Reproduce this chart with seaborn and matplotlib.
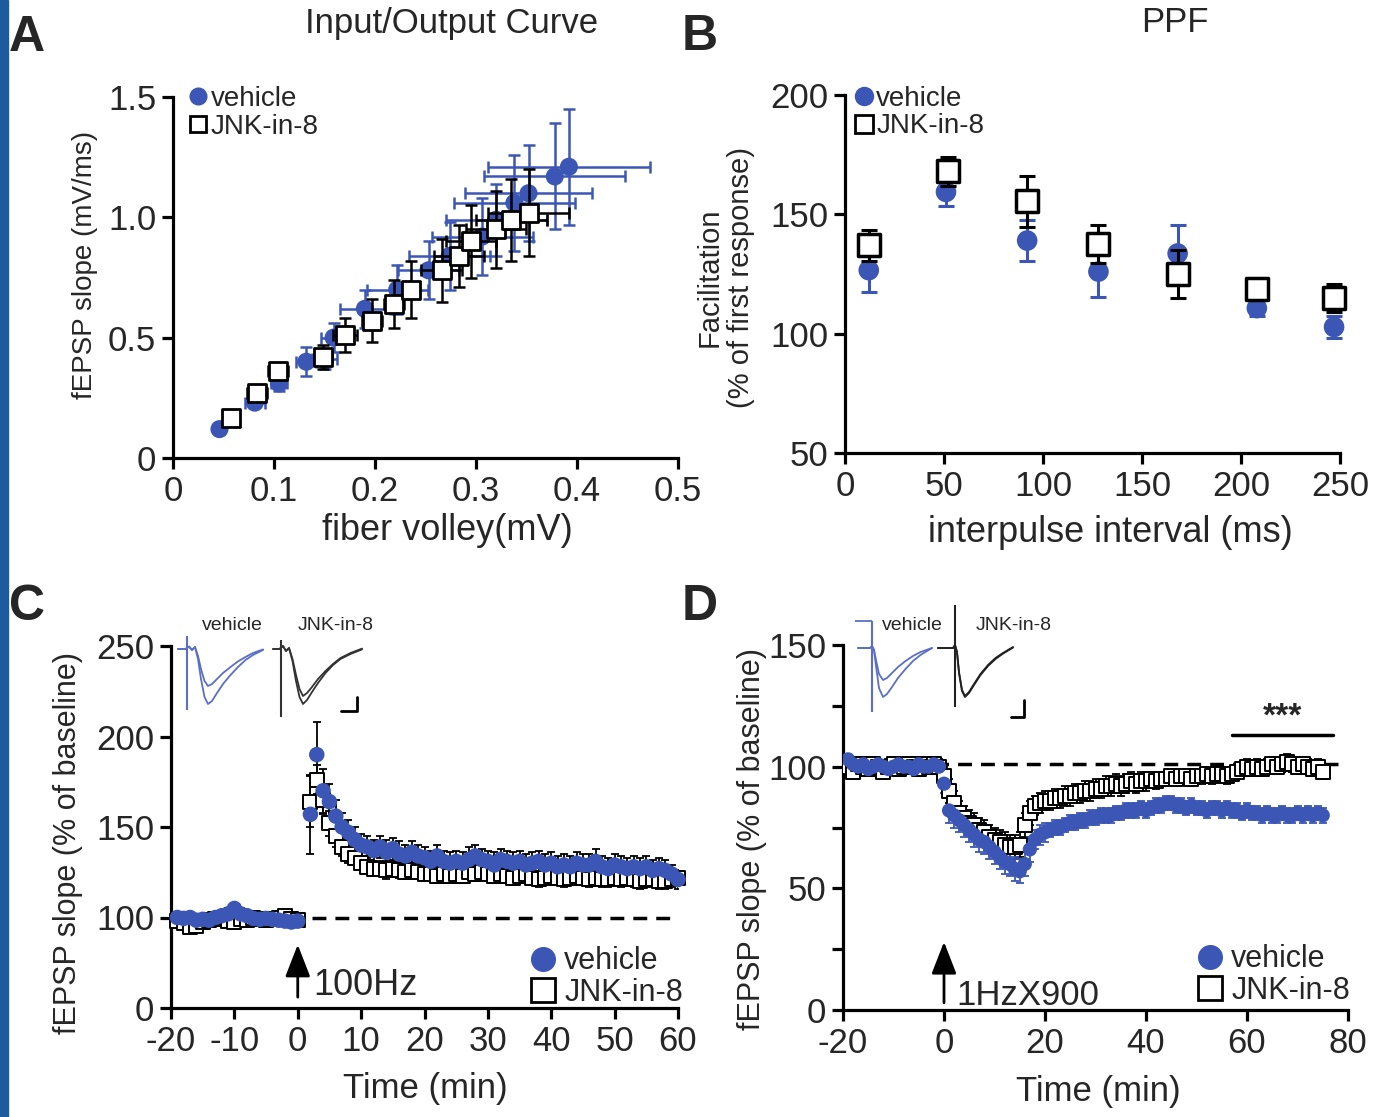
import matplotlib
matplotlib.use("Agg")
import numpy as np
import matplotlib.pyplot as plt
import seaborn as sns
from matplotlib.lines import Line2D
from matplotlib.patches import Rectangle

# ---------------- data ----------------
# A: input/output curve
io_veh_x = [0.046, 0.081, 0.105, 0.132, 0.150, 0.159, 0.190, 0.222, 0.253, 0.274, 0.306, 0.320, 0.338, 0.352, 0.378, 0.392]
io_veh_y = [0.12, 0.23, 0.31, 0.40, 0.41, 0.50, 0.62, 0.70, 0.78, 0.84, 0.92, 0.99, 1.06, 1.10, 1.17, 1.21]
io_veh_xerr = [0.004, 0.010, 0.008, 0.010, 0.012, 0.012, 0.025, 0.030, 0.030, 0.040, 0.050, 0.050, 0.060, 0.063, 0.070, 0.080]
io_veh_yerr = [0.01, 0.02, 0.03, 0.06, 0.04, 0.06, 0.08, 0.10, 0.12, 0.14, 0.16, 0.15, 0.20, 0.20, 0.22, 0.24]
io_jnk_x = [0.057, 0.083, 0.104, 0.149, 0.170, 0.197, 0.219, 0.236, 0.266, 0.283, 0.295, 0.320, 0.335, 0.352]
io_jnk_y = [0.165, 0.27, 0.36, 0.42, 0.51, 0.57, 0.64, 0.70, 0.78, 0.84, 0.90, 0.95, 0.99, 1.02]
io_jnk_xerr = [0.005, 0.010, 0.010, 0.008, 0.012, 0.010, 0.010, 0.008, 0.020, 0.025, 0.025, 0.030, 0.035, 0.040]
io_jnk_yerr = [0.02, 0.03, 0.03, 0.05, 0.07, 0.09, 0.10, 0.12, 0.13, 0.13, 0.15, 0.16, 0.17, 0.18]

# B: paired-pulse facilitation
ppf_veh_x = [12, 51, 92, 128, 168, 208, 247]
ppf_veh_y = [126.6, 159.4, 139, 126, 133.6, 110.7, 102.8]
ppf_veh_err = [9, 6, 8.5, 10.5, 12, 3.5, 4.5]
ppf_jnk_x = [12, 52, 92, 128, 168, 208, 247]
ppf_jnk_y = [137, 168, 155.4, 137.4, 125, 118.7, 115]
ppf_jnk_err = [6.5, 6, 10.5, 8, 10, 4.5, 6]

# C: LTP (100 Hz)
c_time_base = list(range(-19, 1))
c_time_post = list(range(2, 61))
c_veh_base = [100, 99, 100, 97, 98, 97, 100, 101, 102, 105, 102, 101, 99, 98, 99, 98, 97, 96, 95, 96]
c_jnk_base = [96, 94, 90, 91, 95, 97, 98, 99, 96, 95, 98, 97, 99, 98, 97, 98, 100, 101, 98, 97]
c_base_err = [3, 3, 3, 3, 3, 3, 3, 3, 3, 3, 3, 3, 3, 3, 3, 3, 3, 3, 3, 3]
c_veh_post = [157, 190, 170, 164, 156, 150, 147, 143, 140, 139,
              137, 139, 136, 138, 135, 134, 136, 134, 133, 131,
              134, 131, 130, 131, 130, 132, 134, 132, 131, 129,
              132, 131, 130, 131, 129, 130, 131, 129, 130, 128,
              129, 128, 130, 129, 129, 131, 128, 127, 129, 128,
              127, 128, 127, 128, 126, 127, 126, 124, 121]
c_veh_post_err = [22, 18, 12, 10, 9, 8, 7, 7, 6, 6,
                  6, 6, 7, 6, 7, 6, 6, 6, 6, 6,
                  6, 6, 6, 6, 6, 7, 6, 6, 6, 7,
                  6, 6, 6, 6, 6, 6, 6, 6, 6, 6,
                  6, 6, 6, 6, 6, 7, 6, 6, 6, 6,
                  6, 6, 6, 6, 6, 6, 6, 5, 5]
c_jnk_post = [164, 176, 165, 152, 145, 139, 135, 133, 130, 128,
              127, 127, 126, 127, 126, 125, 126, 125, 124, 124,
              123, 124, 123, 124, 123, 125, 124, 125, 124, 123,
              124, 123, 122, 123, 124, 122, 121, 122, 123, 122,
              121, 122, 123, 122, 121, 122, 121, 121, 122, 121,
              122, 121, 120, 121, 121, 120, 120, 121, 122]
c_jnk_post_err = [14, 8, 8, 7, 6, 5, 5, 4, 4, 4,
                  4, 4, 5, 4, 4, 4, 4, 4, 4, 4,
                  4, 4, 4, 4, 4, 4, 4, 4, 4, 4,
                  4, 4, 4, 4, 4, 4, 4, 4, 4, 4,
                  4, 4, 4, 4, 4, 4, 4, 4, 4, 4,
                  4, 4, 4, 4, 4, 4, 4, 4, 4]

# D: LTD (1 Hz x 900)
d_time = list(range(-19, 76))
d_veh = [103, 101, 100, 101, 99, 100, 101, 100, 99, 100,
         101, 100, 100, 99, 101, 100, 100, 101, 100, 93,
         82, 80, 78, 76, 74, 72, 70, 69, 67, 65,
         63, 61, 60, 58, 57, 60, 66, 70, 72, 73,
         74, 75, 75, 76, 77, 77, 78, 78, 79, 79,
         80, 80, 80, 81, 81, 82, 82, 82, 83, 82,
         83, 84, 84, 85, 85, 84, 84, 83, 84, 83,
         83, 82, 83, 83, 82, 83, 82, 82, 81, 82,
         81, 81, 80, 81, 80, 80, 81, 80, 80, 81,
         80, 81, 80, 81, 80]
d_veh_err = [2, 2, 2, 2, 2, 2, 2, 2, 2, 2,
             2, 2, 2, 2, 2, 2, 2, 2, 2, 4,
             5, 5, 5, 5, 5, 5, 5, 5, 5, 5,
             5, 5, 5, 5, 5, 5, 5, 4, 4, 4,
             3, 3, 3, 3, 3, 3, 3, 3, 3, 3,
             3, 3, 3, 3, 3, 3, 3, 3, 3, 3,
             3, 3, 3, 3, 3, 3, 3, 3, 3, 3,
             3, 3, 3, 3, 3, 3, 3, 3, 3, 3,
             3, 3, 3, 3, 3, 3, 3, 3, 3, 3,
             3, 3, 3, 3, 3]
d_jnk = [100, 98, 101, 100, 99, 101, 100, 98, 100, 101,
         99, 100, 101, 100, 99, 101, 100, 101, 100, 96,
         90, 85, 81, 79, 77, 76, 74, 73, 71, 70,
         69, 68, 67, 67, 68, 76, 81, 84, 85, 86,
         86, 87, 87, 88, 88, 89, 89, 90, 90, 91,
         91, 92, 92, 93, 92, 93, 94, 93, 94, 94,
         95, 94, 95, 95, 96, 95, 96, 96, 95, 96,
         96, 97, 96, 97, 97, 96, 97, 98, 99, 100,
         99, 100, 99, 100, 101, 100, 101, 102, 101, 100,
         101, 100, 99, 100, 98]
d_jnk_err = [3, 3, 3, 3, 3, 3, 3, 3, 3, 3,
             3, 3, 3, 3, 3, 3, 3, 3, 3, 4,
             5, 5, 5, 5, 5, 5, 5, 5, 5, 5,
             5, 5, 5, 5, 5, 5, 5, 4, 4, 4,
             4, 4, 4, 4, 4, 4, 4, 4, 4, 4,
             4, 4, 4, 4, 4, 4, 4, 4, 4, 4,
             3, 3, 3, 3, 3, 3, 3, 3, 3, 3,
             3, 3, 3, 3, 3, 3, 3, 3, 3, 3,
             3, 3, 3, 3, 3, 3, 3, 3, 3, 3,
             3, 3, 3, 3, 3]
d_sig_span = [57, 77]
d_sig_y = 113

# example fEPSP traces (ms, arbitrary mV units)
c_tr_veh_t = [0, 1.5, 2.2, 2.8, 3.4, 4.0, 4.6, 5.3, 6.0, 6.8, 7.8, 9.0, 10.5, 12.0, 13.5, 15.0, 17.0]
c_tr_veh_pre = [0, 0, 0.12, -0.05, 0.1, -0.35, -1.0, -1.6, -1.85, -1.75, -1.5, -1.2, -0.9, -0.62, -0.4, -0.2, -0.02]
c_tr_veh_post = [0, 0, 0.12, -0.05, 0.1, -0.5, -1.5, -2.4, -2.75, -2.6, -2.2, -1.75, -1.3, -0.9, -0.55, -0.3, -0.05]
c_tr_jnk_t = [0, 1.3, 2.0, 2.6, 3.2, 3.9, 4.6, 5.3, 6.0, 6.8, 7.8, 9.0, 10.5, 12.0, 13.5, 15.5, 17.8]
c_tr_jnk_pre = [0, 0, 0.15, -0.1, 0.05, -0.5, -1.3, -2.0, -2.35, -2.2, -1.9, -1.5, -1.1, -0.75, -0.45, -0.2, 0.02]
c_tr_jnk_post = [0, 0, 0.15, -0.1, 0.05, -0.6, -1.6, -2.4, -2.75, -2.55, -2.15, -1.7, -1.2, -0.8, -0.5, -0.25, -0.02]
d_tr_veh_t = [0, 2.4, 2.8, 3.2, 3.6, 4.2, 5.0, 5.8, 6.8, 8.0, 9.5, 11.0, 12.5, 14.8]
d_tr_veh_pre = [0, 0, 0.1, -0.1, -0.9, -2.0, -2.45, -2.3, -1.95, -1.5, -1.05, -0.65, -0.35, 0]
d_tr_veh_post = [0, 0, 0.1, -0.1, -0.6, -1.3, -1.6, -1.5, -1.25, -0.95, -0.65, -0.4, -0.2, 0]
d_tr_jnk_t = [0, 3.0, 3.4, 3.8, 4.2, 4.8, 5.4, 6.2, 7.2, 8.5, 10, 11.5, 13, 15]
d_tr_jnk_pre = [0, 0, 0.15, -0.2, -1.2, -2.1, -2.4, -2.2, -1.8, -1.3, -0.85, -0.5, -0.25, 0.05]
d_tr_jnk_post = [0, 0, 0.15, -0.2, -1.25, -2.15, -2.45, -2.25, -1.85, -1.35, -0.9, -0.55, -0.28, 0.02]

BLUE = "#3c56b5"
TRACE_BLUE = "#5b6fc6"
TICK_FS = 25
LAB_FS = 25
LEG_FS = 20

sns.set_theme(style="ticks")
plt.rcParams["font.family"] = ["Liberation Sans", "DejaVu Sans"]
plt.rcParams["axes.unicode_minus"] = False

W, H = 1392, 1117
fig = plt.figure(figsize=(W / 100, H / 100), dpi=100)
fig.patches.append(Rectangle((0, 0), 8 / W, 1, transform=fig.transFigure, color="#1d5b9f", zorder=0))


def px_axes(l, t, r, b):
    return fig.add_axes([l / W, 1 - b / H, (r - l) / W, (b - t) / H])


def style(ax):
    sns.despine(ax=ax)
    for s in ["left", "bottom"]:
        ax.spines[s].set_linewidth(2.3)
        ax.spines[s].set_color("black")
    ax.tick_params(which="both", width=2.3, length=8, labelsize=TICK_FS, color="black", pad=4)
    ax.set_facecolor("none")


def fig_text(x, y, s, **kw):
    fig.text(x / W, 1 - y / H, s, **kw)


def legend(ax, anchor, loc, ms, fs, pad=0.2):
    handles = [Line2D([], [], marker="o", ls="", color=BLUE, ms=ms),
               Line2D([], [], marker="s", ls="", mfc="white", mec="black", mew=2, ms=ms)]
    ax.legend(handles, ["vehicle", "JNK-in-8"], loc=loc, bbox_to_anchor=anchor, frameon=False,
              fontsize=fs, handlelength=0.5, handletextpad=pad, labelspacing=0.05,
              borderpad=0, borderaxespad=0)


# ---------------- A ----------------
axA = px_axes(173, 97, 678, 458)
axA.errorbar(io_veh_x, io_veh_y, xerr=io_veh_xerr, yerr=io_veh_yerr, fmt="none", ecolor=BLUE,
             elinewidth=1.8, capsize=4, capthick=1.8, zorder=2)
sns.scatterplot(x=io_veh_x, y=io_veh_y, ax=axA, color=BLUE, s=170, edgecolor="none", zorder=3)
axA.errorbar(io_jnk_x, io_jnk_y, xerr=io_jnk_xerr, yerr=io_jnk_yerr, fmt="none", ecolor="black",
             elinewidth=1.8, capsize=4, capthick=1.8, zorder=4)
sns.scatterplot(x=io_jnk_x, y=io_jnk_y, ax=axA, marker="s", color="white", edgecolor="black",
                linewidth=2, s=160, zorder=5)
axA.set_xlim(0, 0.5)
axA.set_ylim(0, 1.5)
axA.set_xticks([0, 0.1, 0.2, 0.3, 0.4, 0.5], ["0", "0.1", "0.2", "0.3", "0.4", "0.5"])
axA.set_yticks([0, 0.5, 1.0, 1.5], ["0", "0.5", "1.0", "1.5"])
style(axA)
axA.set_xlabel("fiber volley(mV)", fontsize=26)
axA.xaxis.set_label_coords(0.543, -0.152)
axA.set_ylabel("fEPSP slope (mV/ms)", fontsize=20)
axA.yaxis.set_label_coords(-0.149, 0.535)
legend(axA, (0.036, 1.03), "upper left", 12, LEG_FS)

# ---------------- B ----------------
axB = px_axes(845, 95, 1340, 453)
axB.errorbar(ppf_veh_x, ppf_veh_y, yerr=ppf_veh_err, fmt="none", ecolor=BLUE,
             elinewidth=2.2, capsize=6, capthick=2.2, zorder=2, clip_on=False)
sns.scatterplot(x=ppf_veh_x, y=ppf_veh_y, ax=axB, color=BLUE, s=220, edgecolor="none", zorder=3,
                clip_on=False)
axB.errorbar(ppf_jnk_x, ppf_jnk_y, yerr=ppf_jnk_err, fmt="none", ecolor="black",
             elinewidth=2.2, capsize=6, capthick=2.2, zorder=4, clip_on=False)
sns.scatterplot(x=ppf_jnk_x, y=ppf_jnk_y, ax=axB, marker="s", color="white", edgecolor="black",
                linewidth=2.5, s=230, zorder=5, clip_on=False)
axB.set_xlim(0, 250)
axB.set_ylim(50, 200)
axB.set_xticks([0, 50, 100, 150, 200, 250])
axB.set_yticks([50, 100, 150, 200])
style(axB)
axB.set_xlabel("interpulse interval (ms)", fontsize=26)
axB.xaxis.set_label_coords(0.537, -0.173)
axB.set_ylabel("Facilitation\n(% of first response)", fontsize=21, linespacing=1.15)
axB.yaxis.set_label_coords(-0.182, 0.49)
legend(axB, (0.024, 1.025), "upper left", 13, LEG_FS)


# ---------------- C ----------------
def fwd(y):
    y = np.asarray(y, dtype=float)
    return np.where(y < 100, y * 0.5, y - 50)


def inv(z):
    z = np.asarray(z, dtype=float)
    return np.where(z < 50, z * 2, z + 50)


axC = px_axes(171, 646, 678, 1008)
axC.set_yscale("function", functions=(fwd, inv))
axC.hlines(100, 2.3, 60, colors="black", linestyles=(0, (4, 2.6)), lw=2.5, zorder=1)
axC.errorbar(c_time_base + c_time_post, c_jnk_base + c_jnk_post, yerr=c_base_err + c_jnk_post_err,
             fmt="none", ecolor="black", elinewidth=1.3, capsize=3, capthick=1.3, zorder=2)
sns.scatterplot(x=c_time_base + c_time_post, y=c_jnk_base + c_jnk_post, ax=axC, marker="s",
                color="white", edgecolor="black", linewidth=1.4, s=95, zorder=3, clip_on=False)
axC.errorbar(c_time_base + c_time_post, c_veh_base + c_veh_post, yerr=c_base_err + c_veh_post_err,
             fmt="none", ecolor="black", elinewidth=1.3, capsize=3, capthick=1.3, zorder=2)
sns.scatterplot(x=c_time_base + c_time_post, y=c_veh_base + c_veh_post, ax=axC, color=BLUE,
                s=125, edgecolor="none", zorder=4, clip_on=False)
axC.set_xlim(-20, 60)
axC.set_ylim(0, 250)
axC.set_xticks([-20, -10, 0, 10, 20, 30, 40, 50, 60])
axC.set_yticks([0, 100, 150, 200, 250], ["0", "100", "150", "200", "250"])
axC.yaxis.set_minor_locator(matplotlib.ticker.NullLocator())
style(axC)
axC.annotate("", xy=(0, 70), xytext=(0, 12),
             arrowprops=dict(arrowstyle="-|>,head_length=0.9,head_width=0.35", lw=2, color="black",
                             mutation_scale=22, shrinkA=0, shrinkB=0))
axC.text(2.4, 25, "100Hz", fontsize=26, va="center", ha="left")
axC.set_xlabel("Time (min)", fontsize=LAB_FS)
axC.xaxis.set_label_coords(0.501, -0.177)
axC.set_ylabel("fEPSP slope (% of baseline)", fontsize=22)
axC.yaxis.set_label_coords(-0.174, 0.456)
legend(axC, (1.01, 0.0), "lower right", 17, 22, pad=0.45)

# ---------------- D ----------------
axD = px_axes(843, 645, 1348, 1010)
axD.hlines(101, -20, 78, colors="black", linestyles=(0, (4, 2.6)), lw=2.5, zorder=1)
axD.errorbar(d_time, d_jnk, yerr=d_jnk_err, fmt="none", ecolor="black",
             elinewidth=1.3, capsize=3, capthick=1.3, zorder=2)
sns.scatterplot(x=d_time, y=d_jnk, ax=axD, marker="s", color="white", edgecolor="black",
                linewidth=1.4, s=90, zorder=3)
axD.errorbar(d_time, d_veh, yerr=d_veh_err, fmt="none", ecolor=BLUE,
             elinewidth=1.3, capsize=3, capthick=1.3, zorder=2)
sns.scatterplot(x=d_time, y=d_veh, ax=axD, color=BLUE, s=105, edgecolor="none", zorder=4)
axD.plot(d_sig_span, [d_sig_y, d_sig_y], color="black", lw=2.5)
axD.text(sum(d_sig_span) / 2, d_sig_y + 1, "***", fontsize=24, ha="center", va="bottom", fontweight="bold")
axD.set_xlim(-20, 80)
axD.set_ylim(0, 150)
axD.set_xticks([-20, 0, 20, 40, 60, 80])
axD.set_yticks([0, 50, 100, 150])
axD.set_yticks([25, 75, 125], minor=True)
style(axD)
axD.annotate("", xy=(0, 28), xytext=(0, 3),
             arrowprops=dict(arrowstyle="-|>,head_length=0.9,head_width=0.35", lw=2, color="black",
                             mutation_scale=22, shrinkA=0, shrinkB=0))
axD.text(2.4, 6, "1HzX900", fontsize=25, va="center", ha="left")
axD.set_xlabel("Time (min)", fontsize=LAB_FS)
axD.xaxis.set_label_coords(0.505, -0.178)
axD.set_ylabel("fEPSP slope (% of baseline)", fontsize=22)
axD.yaxis.set_label_coords(-0.15, 0.468)
legend(axD, (1.004, 0.011), "lower right", 17, 22, pad=0.45)


# ---------------- insets ----------------
def trace_axes(l, t, r, b, xlim, ylim):
    a = px_axes(l, t, r, b)
    a.set_xlim(xlim)
    a.set_ylim(ylim)
    a.axis("off")
    return a


def draw_trace(a, t, y1, y2, color, art_x, art_lo, art_hi):
    sns.lineplot(x=t, y=y1, ax=a, color=color, lw=1.3, sort=False, estimator=None)
    sns.lineplot(x=t, y=y2, ax=a, color=color, lw=1.3, sort=False, estimator=None)
    a.vlines(art_x, art_lo, art_hi, colors=color, lw=1.5, clip_on=False)


ic1 = trace_axes(176, 630, 268, 716, (-0.4, 18), (-3.35, 0.95))
draw_trace(ic1, c_tr_veh_t, c_tr_veh_pre, c_tr_veh_post, TRACE_BLUE, 1.8, -3.05, 0.65)
ic2 = trace_axes(270, 630, 365, 716, (-0.6, 18.4), (-3.35, 0.95))
draw_trace(ic2, c_tr_jnk_t, c_tr_jnk_pre, c_tr_jnk_post, "#333333", 1.6, -3.4, 0.45)
ic2.plot([13.6, 16.8, 16.8], [-3.1, -3.1, -2.4], color="black", lw=2, clip_on=False)

id1 = trace_axes(855, 600, 935, 720, (-0.6, 15.4), (-3.6, 2.4))
draw_trace(id1, d_tr_veh_t, d_tr_veh_pre, d_tr_veh_post, TRACE_BLUE, 2.8, -3.2, 1.35)
id1.hlines(1.35, -0.6, 2.8, colors=TRACE_BLUE, lw=1.3)
id2 = trace_axes(935, 600, 1030, 720, (-0.6, 18.4), (-3.6, 2.4))
draw_trace(id2, d_tr_jnk_t, d_tr_jnk_pre, d_tr_jnk_post, "#222222", 3.4, -2.95, 2.15)
id2.plot([14.6, 17.2, 17.2], [-3.45, -3.45, -2.6], color="black", lw=2, clip_on=False)

fig_text(232, 625, "vehicle", fontsize=14, ha="center", va="center")
fig_text(336, 625, "JNK-in-8", fontsize=14, ha="center", va="center")
fig_text(912, 625, "vehicle", fontsize=14, ha="center", va="center")
fig_text(1014, 625, "JNK-in-8", fontsize=14, ha="center", va="center")

# ---------------- titles & panel letters ----------------
fig_text(452, 24, "Input/Output Curve", fontsize=25, ha="center", va="center")
fig_text(1175, 23, "PPF", fontsize=25, ha="center", va="center")
for letter, x, y in [("A", 27, 38), ("B", 700, 37), ("C", 27, 607), ("D", 700, 607)]:
    fig_text(x, y, letter, fontsize=36, fontweight="bold", ha="center", va="center")

fig.savefig("out.png", dpi=100)
